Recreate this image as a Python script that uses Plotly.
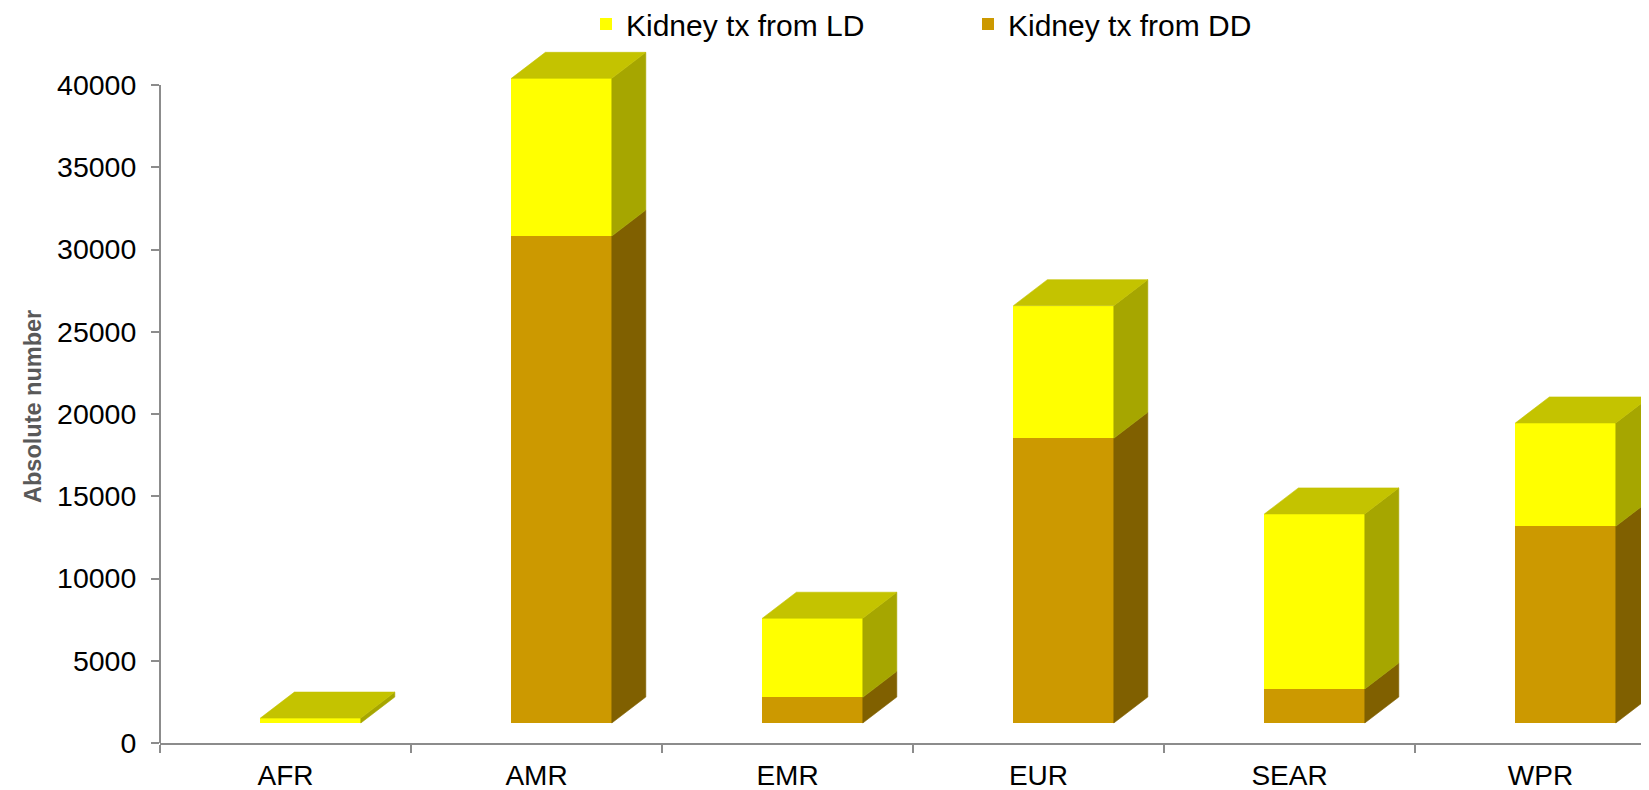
import plotly.graph_objects as go

# ---------------- data ----------------
regions = ["AFR", "AMR", "EMR", "EUR", "SEAR", "WPR"]
kidney_ld = [300, 9590, 4810, 8060, 10640, 6280]
kidney_dd = [0, 29600, 1560, 17310, 2070, 11960]
series_names = ["Kidney tx from LD", "Kidney tx from DD"]
y_ticks = [0, 5000, 10000, 15000, 20000, 25000, 30000, 35000, 40000]

# ---------------- style ----------------
C_LD_FRONT = "#FFFF00"
C_LD_SIDE = "#A6A600"
C_TOP = "#C4C300"
C_DD_FRONT = "#CC9900"
C_DD_SIDE = "#806000"
AXIS_GRAY = "#8C8C8C"

WIN_W, WIN_H = 1649, 790
PAGE_OFF = 8                      # default body margin of the html page
W, H = WIN_W - PAGE_OFF, WIN_H - PAGE_OFF

AXIS_X_SCREEN = 160               # value axis position on screen
AXIS_Y_SCREEN = 743               # category axis position on screen
TOP_TICK_SCREEN = 85              # highest tick on screen

M_L = AXIS_X_SCREEN - PAGE_OFF
M_R = 0
M_T = 0
M_B = H - (AXIS_Y_SCREEN - PAGE_OFF)
plot_w = W - M_L - M_R
plot_h = H - M_T - M_B

PX_PER_CAT = 251.0
BAR_W = 0.40                      # front-face width in category units
BAR_SHIFT = -0.10                 # front face left edge relative to category centre
DEPTH_X = 34 / PX_PER_CAT         # 3-D depth offset, category units
Y_MAX = y_ticks[-1] * plot_h / (AXIS_Y_SCREEN - TOP_TICK_SCREEN)
units_per_px = Y_MAX / plot_h
DEPTH_Y = 26 * units_per_px
FLOOR = 20 * units_per_px         # bars stand on the 3-D floor, slightly above the axis
X_MAX = -0.5 + plot_w / PX_PER_CAT

idx = list(range(len(regions)))
dd_base = [FLOOR for _ in idx]
ld_base = [FLOOR + d for d in kidney_dd]

fig = go.Figure()

# front faces
fig.add_trace(go.Bar(
    x=idx, y=kidney_ld, base=ld_base, width=BAR_W, offset=BAR_SHIFT,
    name=series_names[0], marker=dict(color=C_LD_FRONT, line=dict(width=0)),
    hoverinfo="skip"))
fig.add_trace(go.Bar(
    x=idx, y=kidney_dd, base=dd_base, width=BAR_W, offset=BAR_SHIFT,
    name=series_names[1], marker=dict(color=C_DD_FRONT, line=dict(width=0)),
    hoverinfo="skip"))


def side_poly(i, y0, y1):
    xr = i + BAR_SHIFT + BAR_W
    return ([xr, xr + DEPTH_X, xr + DEPTH_X, xr, xr, None],
            [y0, y0 + DEPTH_Y, y1 + DEPTH_Y, y1, y0, None])


def top_poly(i, yt):
    xl = i + BAR_SHIFT
    xr = xl + BAR_W
    return ([xl, xl + DEPTH_X, xr + DEPTH_X, xr, xl, None],
            [yt, yt + DEPTH_Y, yt + DEPTH_Y, yt, yt, None])


def add_poly(xs, ys, color):
    fig.add_trace(go.Scatter(
        x=xs, y=ys, mode="lines", fill="toself", fillcolor=color,
        line=dict(color=color, width=0.6), showlegend=False, hoverinfo="skip"))


dd_x, dd_y, ld_x, ld_y, tp_x, tp_y = [], [], [], [], [], []
for i in idx:
    if kidney_dd[i] > 0:
        px_, py_ = side_poly(i, dd_base[i], dd_base[i] + kidney_dd[i])
        dd_x += px_; dd_y += py_
    if kidney_ld[i] > 0:
        px_, py_ = side_poly(i, ld_base[i], ld_base[i] + kidney_ld[i])
        ld_x += px_; ld_y += py_
    px_, py_ = top_poly(i, ld_base[i] + kidney_ld[i])
    tp_x += px_; tp_y += py_

add_poly(dd_x, dd_y, C_DD_SIDE)
add_poly(ld_x, ld_y, C_LD_SIDE)
add_poly(tp_x, tp_y, C_TOP)

FONT = "Liberation Sans, Arial, sans-serif"

LEGEND_LEFT = 426                 # px from plot left
LEGEND_RAISE = 10                 # px the legend box is raised above the plot top

fig.update_layout(
    width=W, height=H,
    margin=dict(l=M_L, r=M_R, t=M_T, b=M_B, pad=0, autoexpand=False),
    paper_bgcolor="white", plot_bgcolor="white",
    barmode="overlay", bargap=0,
    font=dict(family=FONT, size=28, color="black"),
    legend=dict(orientation="h", x=LEGEND_LEFT / plot_w, xanchor="left",
                y=1 + LEGEND_RAISE / plot_h, yanchor="top", traceorder="normal",
                font=dict(size=30, color="black"),
                entrywidth=337, entrywidthmode="pixels",
                bgcolor="rgba(0,0,0,0)", borderwidth=0),
    showlegend=True,
)

fig.update_xaxes(
    range=[-0.5, X_MAX], tickvals=idx, ticktext=regions,
    showline=True, linecolor=AXIS_GRAY, linewidth=2,
    ticks="", showgrid=False, zeroline=False,
    tickfont=dict(size=28, color="black"),
    ticklabelstandoff=6,
    minor=dict(ticks="outside", tick0=0.5, dtick=1, ticklen=8,
               tickwidth=2, tickcolor=AXIS_GRAY, showgrid=False),
)

fig.update_yaxes(
    range=[0, Y_MAX], tickvals=y_ticks, ticktext=[str(v) for v in y_ticks],
    showline=False, showgrid=False, zeroline=False,
    ticks="outside", ticklen=8, tickwidth=2, tickcolor=AXIS_GRAY,
    tickfont=dict(size=28.5, color="black"),
    ticklabelstandoff=9,
)

# value-axis line (only up to the highest tick, as in the original)
fig.add_shape(type="line", xref="paper", yref="y", x0=0, x1=0,
              y0=y_ticks[0], y1=y_ticks[-1],
              line=dict(color=AXIS_GRAY, width=2), layer="above")

TITLE_X_SCREEN, TITLE_Y_SCREEN = 33, 407
fig.add_annotation(
    text="<b>Absolute number</b>", textangle=-90,
    xref="paper", yref="paper",
    x=(TITLE_X_SCREEN - PAGE_OFF - M_L) / plot_w,
    y=1 - (TITLE_Y_SCREEN - PAGE_OFF - M_T) / plot_h,
    xanchor="center", yanchor="middle", showarrow=False,
    font=dict(family=FONT, size=23.5, color="#595959"))

fig.write_html("out.html")
